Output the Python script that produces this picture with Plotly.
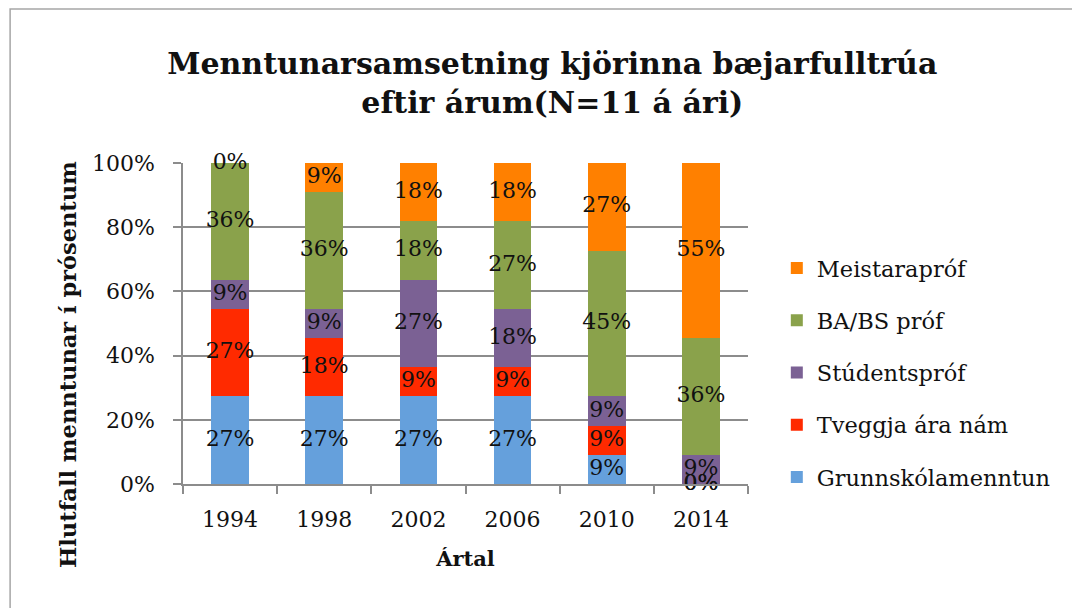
"""Stacked bar chart: education of elected town councillors by year."""

import plotly.graph_objects as go

N = 11
years = ["1994", "1998", "2002", "2006", "2010", "2014"]

# counts out of N=11 per year
grunnskoli = [3, 3, 3, 3, 1, 0]
tveggja_ara = [3, 2, 1, 1, 1, 0]
studentsprof = [1, 1, 3, 2, 1, 1]
ba_bs = [4, 4, 2, 3, 5, 4]
meistaraprof = [0, 1, 2, 2, 3, 6]

series = [
    ("Grunnskólamenntun", grunnskoli, "#65a0dc"),
    ("Tveggja ára nám", tveggja_ara, "#ff2a00"),
    ("Stúdentspróf", studentsprof, "#7b6194"),
    ("BA/BS próf", ba_bs, "#8aa24b"),
    ("Meistarapróf", meistaraprof, "#ff8000"),
]

FONT = "DejaVu Serif"

fig = go.Figure()
base = [0.0] * len(years)
label_x, label_y, label_t = [], [], []
for rank, (name, counts, color) in enumerate(series):
    pct = [c / N * 100 for c in counts]
    fig.add_trace(go.Bar(
        x=years, y=pct, name=name, marker_color=color,
        marker_line_width=0, legendgroup=name,
        legendrank=1000 - rank,
    ))
    for i, p in enumerate(pct):
        label_x.append(years[i])
        label_y.append(base[i] + p / 2)
        label_t.append(f"{round(p)}%")
        base[i] += p

fig.add_trace(go.Scatter(
    x=label_x, y=label_y, text=label_t, mode="text", showlegend=False,
    textfont=dict(family=FONT, size=22, color="#111111"), hoverinfo="skip",
    cliponaxis=False,
))

fig.update_layout(
    barmode="stack",
    bargap=0.6,
    width=1080, height=608,
    margin=dict(l=175, r=340, t=155, b=132),
    paper_bgcolor="white", plot_bgcolor="white",
    font=dict(family=FONT, size=22, color="#111111"),
    title=dict(
        text="<b>Menntunarsamsetning kjörinna bæjarfulltrúa<br>eftir árum(N=11 á ári)</b>",
        x=0.504, xref="container", xanchor="center",
        y=0.892, yref="container", yanchor="middle",
        font=dict(family=FONT, size=30, color="#111111"),
    ),
    legend=dict(
        x=1.051, xanchor="left", y=0.739, yanchor="top",
        traceorder="grouped", tracegroupgap=20,
        font=dict(family=FONT, size=22.5),
        itemwidth=30,
    ),
    xaxis=dict(
        type="category", showline=True, linecolor="#8c8c8c", linewidth=1.5,
        ticks="outside", tickson="boundaries", ticklen=8, tickcolor="#8c8c8c",
        tickwidth=1.5, tickfont=dict(size=22), ticklabelstandoff=15,
        title=dict(text="<b>Ártal</b>", font=dict(size=21), standoff=20),
    ),
    yaxis=dict(
        range=[0, 100], dtick=20, ticksuffix="%", showgrid=True,
        gridcolor="#8c8c8c", gridwidth=1.5, showline=True,
        linecolor="#8c8c8c", linewidth=1.5, ticks="outside", ticklen=8,
        tickcolor="#8c8c8c", tickwidth=1.5, zeroline=False,
        tickfont=dict(size=22), ticklabelstandoff=14,
    ),
    annotations=[dict(
        text="<b>Hlutfall menntunar í prósentum</b>",
        xref="paper", yref="paper", x=-0.2035, y=0.371,
        xanchor="center", yanchor="middle", textangle=-90,
        showarrow=False, font=dict(family=FONT, size=22.5, color="#111111"),
    )],
    shapes=[dict(
        type="rect", xref="paper", yref="paper",
        x0=-0.306, x1=3, y0=-3, y1=1.48,
        line=dict(color="#a6a6a6", width=1.5), fillcolor="rgba(0,0,0,0)",
        layer="below",
    )],
)

fig.write_html("out.html")
